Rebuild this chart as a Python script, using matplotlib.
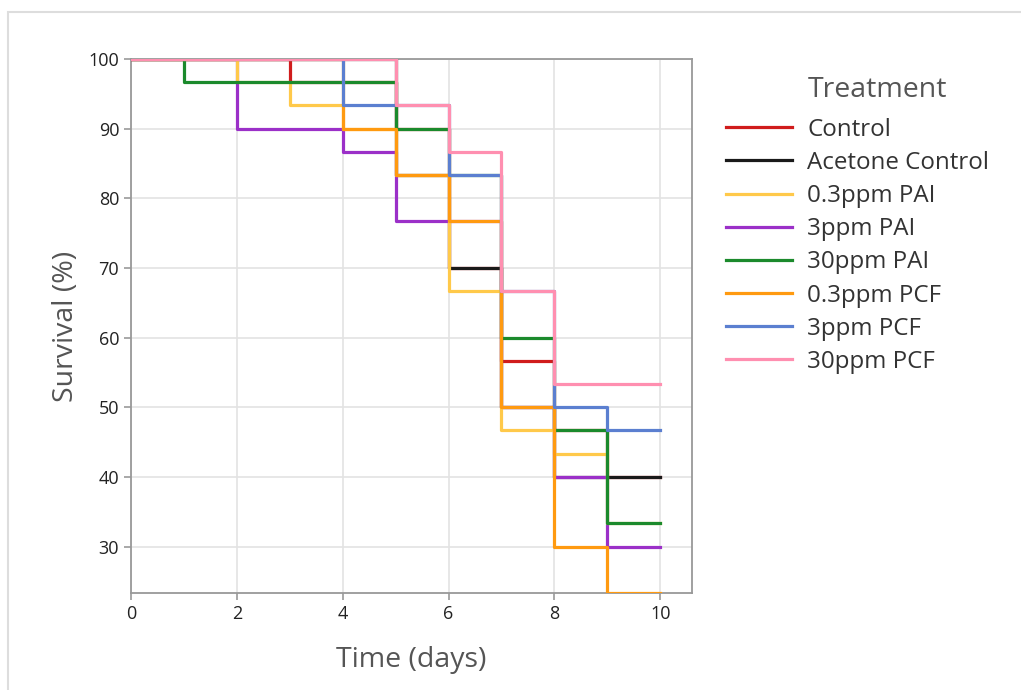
import matplotlib
matplotlib.use('Agg')
import matplotlib.pyplot as plt
from matplotlib.patches import Rectangle

plt.rcParams['font.family'] = ['Open Sans', 'DejaVu Sans']

# survival (%) for each day interval, day 0..10, n = 30 per group
days = [0, 1, 2, 3, 4, 5, 6, 7, 8, 9, 10]
control = [100, 100, 100, 96.67, 96.67, 90, 70, 56.67, 46.67, 40, 40]
acetone = [100, 100, 100, 100, 100, 83.33, 70, 50, 40, 40, 40]
pai_03 = [100, 100, 96.67, 93.33, 90, 83.33, 66.67, 46.67, 43.33, 33.33, 33.33]
pai_3 = [100, 100, 90, 90, 86.67, 76.67, 76.67, 50, 40, 30, 30]
pai_30 = [100, 96.67, 96.67, 96.67, 96.67, 90, 83.33, 60, 46.67, 33.33, 33.33]
pcf_03 = [100, 100, 100, 100, 90, 83.33, 76.67, 50, 30, 23.33, 23.33]
pcf_3 = [100, 100, 100, 100, 93.33, 93.33, 83.33, 66.67, 50, 46.67, 46.67]
pcf_30 = [100, 100, 100, 100, 100, 93.33, 86.67, 66.67, 53.33, 53.33, 53.33]

labels = ['Control', 'Acetone Control', '0.3ppm PAI', '3ppm PAI',
          '30ppm PAI', '0.3ppm PCF', '3ppm PCF', '30ppm PCF']
series = [control, acetone, pai_03, pai_3, pai_30, pcf_03, pcf_3, pcf_30]
colors = ['#d01c1c', '#1a1a1a', '#ffc94a', '#9b30c8', '#1b8a2c',
          '#ff9a10', '#5b7fd0', '#ff8fb0']
zorders = [1, 2, 4, 3, 5, 6, 7, 8]

fig = plt.figure(figsize=(10.21, 6.9), dpi=100)
ax = fig.add_axes([131 / 1021, 1 - 593 / 690, (692 - 131) / 1021, (593 - 59) / 690])

for s, lab, c, z in zip(series, labels, colors, zorders):
    ax.step(days, s, where='post', color=c, lw=2.3, label=lab, zorder=z + 2)

ax.set_xlim(0, 10.6)
ax.set_ylim(23.33, 100)
ax.set_xticks([0, 2, 4, 6, 8, 10])
ax.set_yticks([30, 40, 50, 60, 70, 80, 90, 100])
ax.grid(True, color='#e3e3e3', lw=1.2, zorder=0)
ax.set_axisbelow(True)
for sp in ax.spines.values():
    sp.set_color('#999999')
    sp.set_linewidth(1.3)
ax.tick_params(colors='#999999', labelcolor='#222222', labelsize=13, length=5, width=1.2)

ax.set_xlabel('Time (days)', fontsize=20.5, color='#555555', labelpad=17)
ax.set_ylabel('Survival (%)', fontsize=20.5, color='#555555', labelpad=6)

leg = ax.legend(loc='upper left', bbox_to_anchor=(716 / 1021, 1 - 108 / 690),
                bbox_transform=fig.transFigure, frameon=False, fontsize=17.4,
                handlelength=2.75, labelspacing=0.38, handletextpad=0.62,
                borderaxespad=0)
for t in leg.get_texts():
    t.set_color('#333333')

# legend title placed over the label column
fig.text(808 / 1021, 1 - 90 / 690, 'Treatment', fontsize=20.5, color='#555555',
         va='center', ha='left')

# light frame round the figure (top and left edges)
fig.add_artist(Rectangle((8 / 1021, -0.1), 1.2, 1 - 12 / 690 + 0.1,
                         transform=fig.transFigure, fill=False,
                         edgecolor='#dddddd', lw=1.5))

fig.savefig('out.png', dpi=100)
